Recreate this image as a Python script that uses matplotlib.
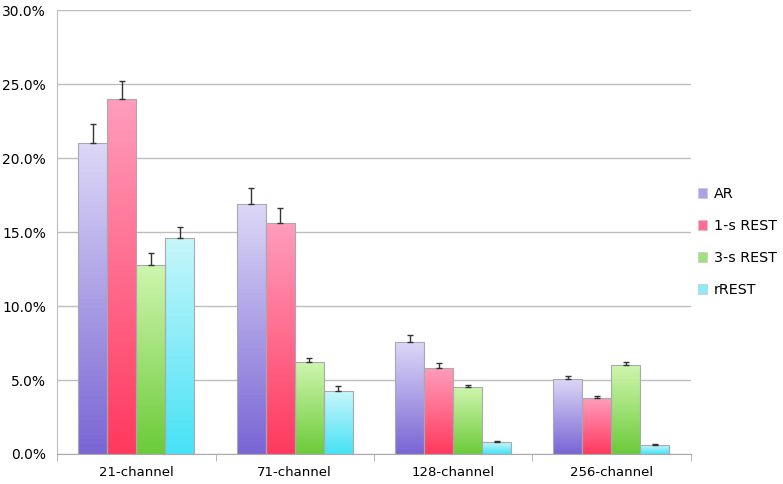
import numpy as np
import matplotlib.pyplot as plt
from matplotlib.colors import LinearSegmentedColormap
from matplotlib.ticker import FuncFormatter, FixedLocator

# data (percent)
groups = ['21-channel', '71-channel', '128-channel', '256-channel']
series = ['AR', '1-s REST', '3-s REST', 'rREST']
ar = [21.0, 16.9, 7.55, 5.1]
rest_1s = [24.0, 15.6, 5.83, 3.76]
rest_3s = [12.8, 6.2, 4.5, 6.0]
rrest = [14.6, 4.25, 0.78, 0.6]
ar_err = [1.3, 1.05, 0.5, 0.2]
rest_1s_err = [1.2, 1.0, 0.3, 0.18]
rest_3s_err = [0.8, 0.3, 0.18, 0.25]
rrest_err = [0.75, 0.35, 0.09, 0.07]

values = [ar, rest_1s, rest_3s, rrest]
errors = [ar_err, rest_1s_err, rest_3s_err, rrest_err]
# (top colour, bottom colour) for each series gradient
grads = [('#dcd7f7', '#7a66d4'),
         ('#ff9cbc', '#ff3a5e'),
         ('#cff5ae', '#6ccb3a'),
         ('#c6f6fa', '#48e2f6')]
legend_cols = ['#aaa2e6', '#ff6e92', '#a2e07a', '#8beaf6']

fig = plt.figure(figsize=(7.83, 4.84), dpi=100)
ax = fig.add_axes([0.073, 0.062, 0.809, 0.917])

n = len(series)
width = 0.183
x = np.arange(len(groups))
for i in range(n):
    pos = x + (i - (n - 1) / 2) * width
    bars = ax.bar(pos, values[i], width, color='none', edgecolor='#a8a8b0',
                  linewidth=0.8, zorder=3)
    cmap = LinearSegmentedColormap.from_list('g%d' % i, [grads[i][1], grads[i][0]])
    for b in bars:
        x0, w, h = b.get_x(), b.get_width(), b.get_height()
        im = ax.imshow(np.linspace(0, 1, 64).reshape(-1, 1), cmap=cmap,
                       origin='lower', aspect='auto',
                       extent=[x0, x0 + w, 0, h], zorder=2)
        im.set_clip_path(b)
    ax.errorbar(pos, values[i], yerr=[np.zeros(len(groups)), errors[i]],
                fmt='none', ecolor='#333333', elinewidth=1.0, capsize=2.5,
                capthick=1.0, zorder=4)
    # legend proxy
    ax.bar([0], [0], color=legend_cols[i], edgecolor='#c8c8d0',
           linewidth=0.5, label=series[i])

ax.set_xlim(-0.5, len(groups) - 0.5)
ax.set_ylim(0, 30)
ax.set_yticks(np.arange(0, 31, 5))
ax.yaxis.set_major_formatter(FuncFormatter(lambda v, p: '%.1f%%' % v))
ax.yaxis.grid(True, color='#bdbdbd', linewidth=1.0, zorder=0)
ax.set_axisbelow(True)

ax.set_xticks(x)
ax.set_xticklabels(groups)
ax.xaxis.set_minor_locator(FixedLocator(np.arange(-0.5, len(groups), 1.0)))
ax.tick_params(axis='x', which='major', length=0, pad=9, labelsize=9.5)
ax.tick_params(axis='x', which='minor', length=5, color='#aaaaaa')
ax.tick_params(axis='y', length=0, pad=8, labelsize=10)

for s in ['top', 'right']:
    ax.spines[s].set_visible(False)
ax.spines['left'].set_color('#bdbdbd')
ax.spines['bottom'].set_color('#aaaaaa')

handles, labels = ax.get_legend_handles_labels()
leg = fig.legend(handles, labels, loc='center left', bbox_to_anchor=(0.891, 0.5),
                 frameon=False, fontsize=10.3, handlelength=0.65, handleheight=0.65,
                 labelspacing=1.25, handletextpad=0.5, borderpad=0,
                 borderaxespad=0)

fig.savefig('out.png', dpi=100)
